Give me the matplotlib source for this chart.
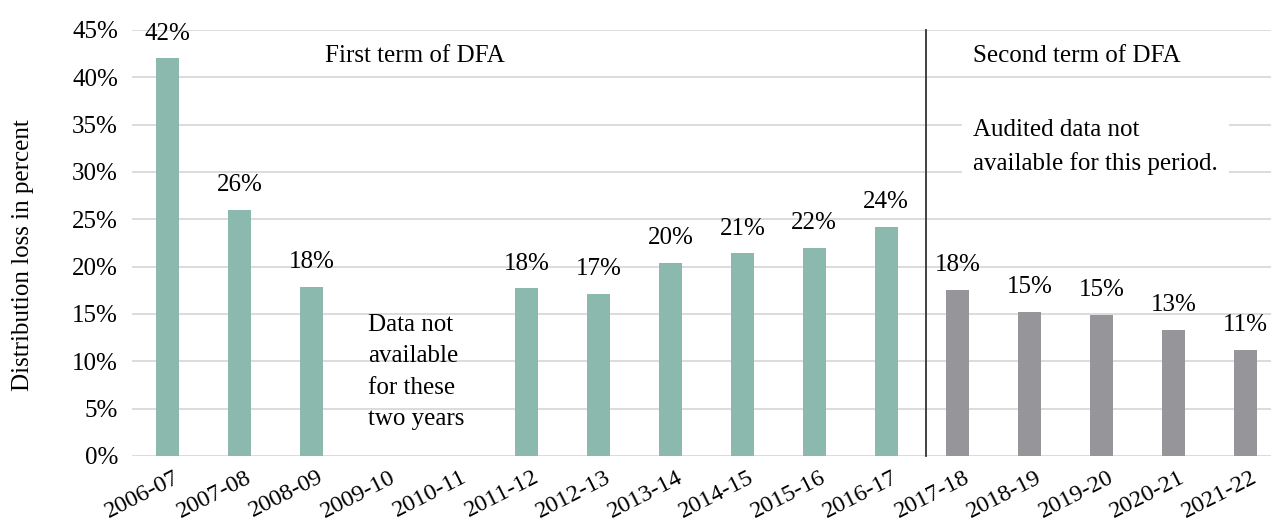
import matplotlib
matplotlib.use("Agg")
import matplotlib.pyplot as plt
import matplotlib.transforms as mtransforms

# data
years = ["2006-07", "2007-08", "2008-09", "2009-10", "2010-11", "2011-12",
         "2012-13", "2013-14", "2014-15", "2015-16", "2016-17", "2017-18",
         "2018-19", "2019-20", "2020-21", "2021-22"]
# None = data not available
loss_pct = [42.0, 26.0, 17.9, None, None, 17.7, 17.1, 20.4, 21.4, 22.0, 24.2,
            17.5, 15.2, 14.9, 13.3, 11.2]
first_term_n = 11   # first 11 years in first term of DFA
yticks = [0, 5, 10, 15, 20, 25, 30, 35, 40, 45]

teal = "#8BB9AE"
grey = "#96959A"
fs = 18

plt.rcParams['font.family'] = ['Liberation Serif', 'DejaVu Serif']

fig = plt.figure(figsize=(12.71, 5.21), dpi=100)
ax = fig.add_axes([132 / 1271, 1 - 456 / 521, 1 - 132 / 1271, 426 / 521])

for i, v in enumerate(loss_pct):
    if v is None:
        continue
    c = teal if i < first_term_n else grey
    ax.bar(i, v, width=0.32, color=c, zorder=3)
    ax.annotate(f"{v:.0f}%", (i, v), xytext=(0, 10), textcoords="offset points",
                ha="center", va="bottom", fontsize=fs, zorder=4)

ax.set_xlim(-0.5, 15.36)
ax.set_ylim(0, 45)
ax.tick_params(axis="both", length=0)
ax.tick_params(axis="y", pad=10)
ax.tick_params(axis="x", pad=0)
ax.set_yticks(yticks)
ax.set_yticklabels([f"{t}%" for t in yticks], fontsize=fs)
ax.set_xticks(range(len(years)))
ax.set_xticklabels(years, fontsize=17.5, rotation=27, ha="right",
                   va="baseline", rotation_mode="anchor")
# shift labels so the end of each baseline sits just right of the bar
offset = mtransforms.ScaledTranslation(13 / 100, -25 / 100, fig.dpi_scale_trans)
for lab in ax.get_xticklabels():
    lab.set_transform(lab.get_transform() + offset)
ax.grid(axis="y", color="#D9D9D9", linewidth=1.3, zorder=0)
for s in ax.spines.values():
    s.set_visible(False)

ax.set_ylabel("Distribution loss in percent", fontsize=fs)
ax.yaxis.set_label_coords(-0.086, 0.472)

# divider between the two terms
ax.axvline(first_term_n - 0.44, ymin=0, ymax=1, color="#333333", linewidth=1.3,
           zorder=5, clip_on=False)

ax.text(2.19, 41.6, "First term of DFA", fontsize=fs, va="baseline", ha="left")
ax.text(11.21, 41.6, "Second term of DFA", fontsize=fs, va="baseline", ha="left")
ax.text(11.21, 35.6, "Audited data not\navailable for this period.", fontsize=fs,
        va="top", ha="left", linespacing=1.6, zorder=6,
        bbox=dict(facecolor="white", edgecolor="none", pad=8))
ax.text(2.785, 15.0, "Data not\navailable\nfor these\ntwo years", fontsize=fs,
        va="top", ha="left", linespacing=1.55, zorder=6)

fig.savefig("out.png", dpi=100)
